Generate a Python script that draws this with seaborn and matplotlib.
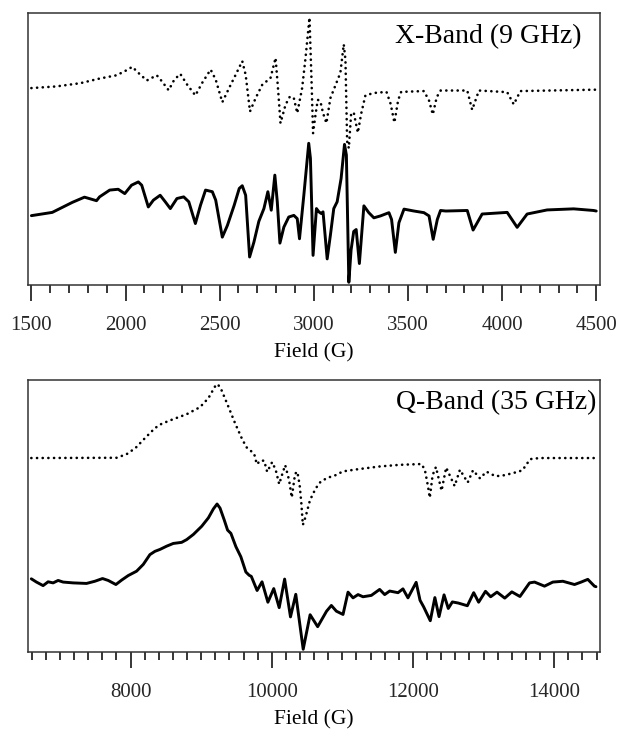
import matplotlib
matplotlib.use("Agg")
import matplotlib.pyplot as plt
from matplotlib.ticker import MultipleLocator
import seaborn as sns
import pandas as pd

# X-band (9 GHz) spectra, field in G, signal in arbitrary units
x_exp_field = [1500, 1611, 1718, 1782, 1846, 1862, 1916, 1961, 1996, 2032, 2068, 2086,
               2121, 2148, 2184, 2211, 2238, 2273, 2309, 2336, 2371, 2398, 2425, 2461,
               2479, 2514, 2541, 2577, 2604, 2620, 2638, 2659, 2682, 2708, 2735, 2756,
               2774, 2793, 2806, 2820, 2841, 2867, 2894, 2912, 2924, 2947, 2973, 2982,
               2996, 3014, 3027, 3039, 3049, 3071, 3088, 3106, 3124, 3145, 3163, 3173,
               3186, 3198, 3212, 3225, 3242, 3266, 3292, 3319, 3354, 3399, 3413, 3433,
               3452, 3479, 3532, 3585, 3612, 3634, 3656, 3673, 3701, 3815, 3846, 3894,
               4027, 4080, 4133, 4239, 4380, 4486, 4500]
x_exp_signal = [25.5, 26.7, 30.4, 32.3, 31.0, 32.4, 34.9, 35.2, 33.6, 36.7, 37.9, 36.7,
                28.7, 31.2, 33.0, 30.6, 28.1, 31.8, 32.4, 30.6, 22.6, 29.3, 34.9, 34.3,
                31.2, 17.6, 21.9, 29.3, 35.5, 36.5, 33.0, 10.3, 15.8, 23.4, 28.1, 34.3,
                27.5, 40.4, 30.6, 15.4, 21.3, 25.0, 25.6, 24.4, 17.0, 33.0, 52.1, 46.6,
                10.9, 28.1, 26.9, 26.3, 26.9, 9.6, 18.3, 28.1, 30.6, 39.2, 51.7, 47.8,
                1.0, 12.9, 19.7, 20.4, 7.9, 29.1, 26.6, 24.7, 25.4, 26.6, 24.1, 12.0,
                22.9, 27.9, 27.2, 26.6, 25.4, 16.8, 24.1, 27.4, 27.2, 27.4, 20.2, 26.1,
                26.7, 21.2, 26.1, 27.6, 28.0, 27.4, 27.2]

x_sim_field = [1500, 1632, 1760, 1862, 1952, 1996, 2036, 2068, 2113, 2166, 2193, 2229,
               2259, 2291, 2327, 2371, 2407, 2452, 2479, 2514, 2550, 2585, 2620, 2638,
               2661, 2691, 2726, 2770, 2797, 2811, 2823, 2850, 2873, 2894, 2912, 2938,
               2956, 2977, 2988, 2996, 3009, 3021, 3035, 3049, 3067, 3088, 3120, 3141,
               3159, 3168, 3177, 3186, 3198, 3212, 3221, 3234, 3251, 3274, 3319, 3386,
               3408, 3428, 3448, 3464, 3585, 3612, 3632, 3653, 3674, 3815, 3841, 3877,
               4027, 4062, 4097, 4486, 4500]
x_sim_signal = [72.4, 73.0, 74.2, 75.9, 77.1, 78.6, 80.2, 78.0, 75.2, 77.1, 74.9, 71.6,
                75.5, 77.6, 73.7, 69.7, 74.3, 79.2, 75.5, 67.2, 72.4, 77.3, 82.3, 77.3,
                63.8, 68.7, 73.6, 76.1, 83.5, 71.2, 59.5, 66.3, 69.3, 68.7, 63.2, 72.4,
                83.5, 98.3, 74.9, 55.8, 62.6, 68.1, 67.5, 63.2, 59.5, 68.7, 74.3, 78.0,
                88.5, 82.8, 52.8, 50.3, 62.8, 63.5, 60.3, 56.0, 62.8, 69.7, 70.6, 71.0,
                66.6, 59.7, 68.0, 71.0, 71.3, 67.8, 62.7, 69.1, 71.5, 71.5, 64.4, 71.5,
                70.9, 66.4, 71.3, 71.8, 71.8]

# Q-band (35 GHz) spectra
q_exp_field = [6594, 6667, 6761, 6832, 6903, 6974, 7045, 7187, 7376, 7494, 7603, 7683,
               7792, 7872, 7967, 8085, 8180, 8274, 8345, 8416, 8511, 8605, 8723, 8794,
               8889, 9007, 9102, 9173, 9225, 9267, 9327, 9374, 9421, 9492, 9562, 9633,
               9680, 9710, 9792, 9862, 9945, 10028, 10105, 10182, 10265, 10340, 10445,
               10543, 10650, 10776, 10844, 10915, 11009, 11080, 11151, 11222, 11292,
               11410, 11528, 11599, 11670, 11788, 11858, 11929, 12045, 12100, 12151,
               12245, 12310, 12369, 12440, 12500, 12558, 12640, 12770, 12860, 12930,
               13027, 13100, 13190, 13300, 13400, 13515, 13651, 13722, 13863, 13981,
               14123, 14288, 14382, 14476, 14570, 14592]
q_exp_signal = [26.9, 25.7, 24.4, 25.8, 25.4, 26.3, 25.7, 25.4, 25.2, 26.0, 27.0, 26.3,
                24.8, 26.4, 28.1, 29.7, 32.2, 35.8, 37.0, 37.7, 38.9, 39.9, 40.3, 41.3,
                43.2, 46.2, 49.3, 52.6, 54.4, 52.9, 48.5, 44.8, 43.6, 38.7, 35.0, 29.4,
                28.2, 27.8, 22.6, 25.8, 18.3, 23.3, 16.3, 26.8, 12.9, 21.2, 1.0,
                13.7, 9.3, 15.0, 17.1, 15.0, 13.8, 22.0, 19.9, 21.1, 20.3,
                20.8, 23.0, 21.1, 22.4, 21.8, 23.2, 19.9, 25.6, 19.0, 16.6,
                11.5, 20.0, 13.0, 21.0, 16.0, 18.4, 18.0, 17.0, 21.8, 18.3,
                22.3, 20.3, 22.0, 19.8, 22.1, 20.4, 25.4, 25.7, 24.2, 25.7,
                26.0, 24.8, 25.7, 26.7, 24.2, 24.0]

q_sim_field = [6594, 7801, 7943, 8070, 8203, 8345, 8440, 8605, 8794, 8983, 9102, 9196,
               9235, 9291, 9385, 9480, 9574, 9640, 9700, 9751, 9788, 9840, 9892, 9935,
               10005, 10056, 10105, 10151, 10190, 10245, 10283, 10330, 10362, 10395,
               10419, 10440, 10480, 10541, 10621, 10692, 10786, 10904, 11009, 11222,
               11528, 11811, 12120, 12168, 12212, 12238, 12278, 12325, 12369, 12405,
               12470, 12590, 12665, 12775, 12850, 12950, 13040, 13170, 13300, 13480,
               13550, 13660, 13793, 14592]
q_sim_signal = [71.3, 71.4, 72.7, 75.0, 78.6, 82.3, 83.9, 85.6, 87.4, 90.0, 93.3, 97.6,
                98.5, 96.1, 90.2, 84.1, 78.6, 75.3, 74.0, 72.8, 69.0, 70.4, 70.3, 66.2,
                69.8, 66.9, 61.7, 65.6, 68.7, 63.2, 56.8, 65.5, 66.3, 61.3,
                54.6, 46.7, 49.8, 55.8, 60.1, 62.6, 64.0, 65.0, 66.4, 67.2,
                68.2, 68.8, 69.1, 67.0, 61.0, 56.7, 65.0, 68.0, 63.2, 59.3,
                67.8, 61.0, 67.0, 62.3, 66.8, 63.8, 66.3, 64.6, 65.0, 66.2,
                66.8, 70.9, 71.3, 71.3]

x_ticks = [1500, 2000, 2500, 3000, 3500, 4000, 4500]
q_ticks = [8000, 10000, 12000, 14000]

sns.set_theme(style="white")
plt.rcParams['font.family'] = ['Liberation Serif', 'DejaVu Serif']


def draw_panel(ax, exp_f, exp_s, sim_f, sim_s, xlim, ticks, minor, label, label_x):
    exp_df = pd.DataFrame({"field": exp_f, "signal": exp_s})
    sim_df = pd.DataFrame({"field": sim_f, "signal": sim_s})
    # simulation: dotted, experiment: solid
    sns.lineplot(data=sim_df, x="field", y="signal", ax=ax, color="black",
                 lw=1.9, linestyle=(0, (0.05, 2.1)), dash_capstyle="round",
                 estimator=None, sort=False)
    sns.lineplot(data=exp_df, x="field", y="signal", ax=ax, color="black",
                 lw=2.1, estimator=None, sort=False)
    ax.set_xlim(*xlim)
    ax.set_ylim(0, 100)
    ax.set_xticks(ticks)
    ax.xaxis.set_minor_locator(MultipleLocator(minor))
    ax.set_yticks([])
    ax.set_ylabel("")
    ax.set_xlabel("Field (G)", fontsize=15.5, color="black", labelpad=5.5)
    ax.tick_params(axis="x", which="major", direction="out", length=11.5, width=1.1,
                   color="black", labelsize=15, pad=11, bottom=True)
    ax.tick_params(axis="x", which="minor", direction="out", length=5.8, width=1.1,
                   color="black", bottom=True)
    for sp in ax.spines.values():
        sp.set_color("#333333")
        sp.set_linewidth(1.1)
    ax.text(label_x, 0.915, label, transform=ax.transAxes,
            ha="right", va="center", fontsize=20, color="black")


fig = plt.figure(figsize=(6.29, 7.43), dpi=100)
ax1 = fig.add_axes([0.0445, 0.6164, 0.9094, 0.3661])
ax2 = fig.add_axes([0.0445, 0.1225, 0.9094, 0.3661])

draw_panel(ax1, x_exp_field, x_exp_signal, x_sim_field, x_sim_signal,
           (1482, 4520), x_ticks, 100, "X-Band (9 GHz)", 0.968)
draw_panel(ax2, q_exp_field, q_exp_signal, q_sim_field, q_sim_signal,
           (6547, 14649), q_ticks, 200, "Q-Band (35 GHz)", 0.993)

fig.savefig("out.png", dpi=100)
